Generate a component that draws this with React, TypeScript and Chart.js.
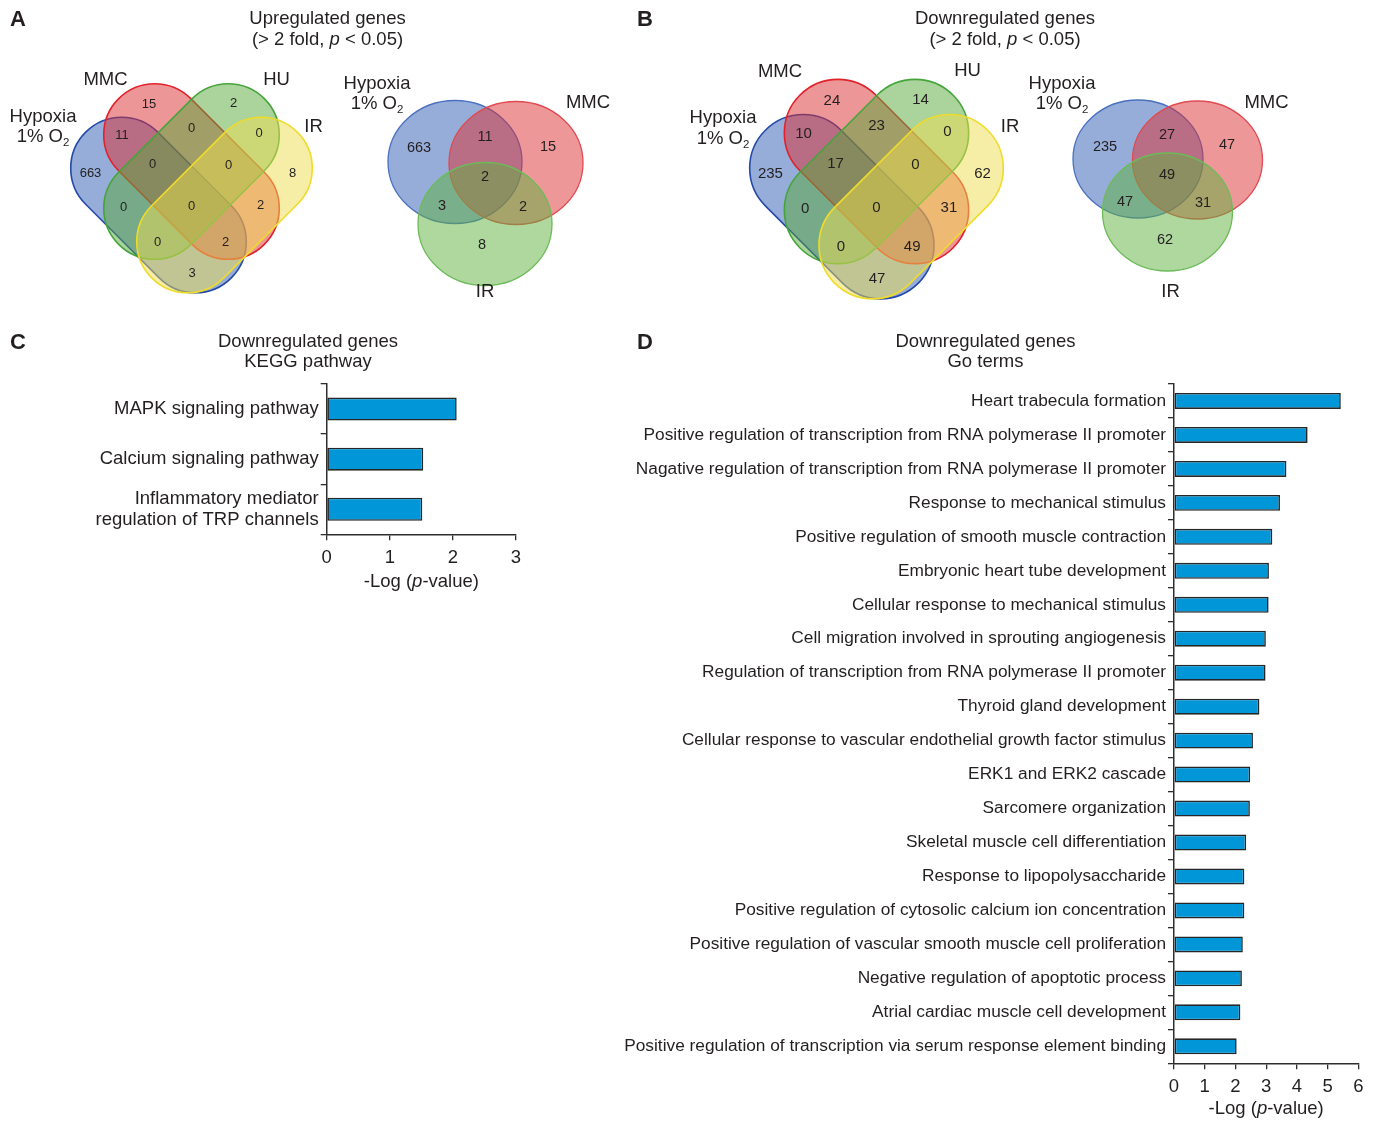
import React, { useEffect, useRef } from 'react';
import { Chart, registerables } from 'chart.js';

Chart.register(...registerables);

const FONT = '"Liberation Sans", Arial, Helvetica, sans-serif';
const INK = '#231f20';
const AXIS = '#2e2e2e';
const BAR_FILL = '#0096d8';
const BAR_EDGE = '#262626';

// ---------- Venn data ----------
const VENN4_REGIONS = ['M', 'U', 'HM', 'MU', 'UI', 'H', 'HMU', 'MUI', 'I', 'HU', 'HMUI', 'MI', 'HUI', 'HMI', 'HI'];
const UP_VENN4_COUNTS = [15, 2, 11, 0, 0, 663, 0, 0, 8, 0, 0, 2, 0, 2, 3];
const DOWN_VENN4_COUNTS = [24, 14, 10, 23, 0, 235, 17, 0, 62, 0, 0, 31, 0, 49, 47];
const VENN3_REGIONS = ['H', 'HM', 'M', 'HMI', 'HI', 'MI', 'I'];
const UP_VENN3_COUNTS = [663, 11, 15, 2, 3, 2, 8];
const DOWN_VENN3_COUNTS = [235, 27, 47, 49, 47, 31, 62];

// ---------- Bar data ----------
const KEGG_LABELS = [['MAPK signaling pathway'], ['Calcium signaling pathway'], ['Inflammatory mediator', 'regulation of TRP channels']];
const KEGG_VALUES = [2.06, 1.53, 1.515];
const KEGG_MAX = 3;

const GO_LABELS = [
  'Heart trabecula formation',
  'Positive regulation of transcription from RNA polymerase II promoter',
  'Nagative regulation of transcription from RNA polymerase II promoter',
  'Response to mechanical stimulus',
  'Positive regulation of smooth muscle contraction',
  'Embryonic heart tube development',
  'Cellular response to mechanical stimulus',
  'Cell migration involved in sprouting angiogenesis',
  'Regulation of transcription from RNA polymerase II promoter',
  'Thyroid gland development',
  'Cellular response to vascular endothelial growth factor stimulus',
  'ERK1 and ERK2 cascade',
  'Sarcomere organization',
  'Skeletal muscle cell differentiation',
  'Response to lipopolysaccharide',
  'Positive regulation of cytosolic calcium ion concentration',
  'Positive regulation of vascular smooth muscle cell proliferation',
  'Negative regulation of apoptotic process',
  'Atrial cardiac muscle cell development',
  'Positive regulation of transcription via serum response element binding',
];
const GO_VALUES = [5.43, 4.35, 3.66, 3.45, 3.2, 3.09, 3.08, 2.99, 2.98, 2.78, 2.57, 2.48, 2.47, 2.35, 2.29, 2.29, 2.24, 2.21, 2.16, 2.04];
const GO_MAX = 6;

// ---------- text helper ----------
type Run = { t: string; i?: boolean; sub?: boolean; b?: boolean };

function drawRuns(ctx: CanvasRenderingContext2D, runs: Run[], x: number, y: number, size: number, align: string = 'center') {
  ctx.save();
  ctx.textBaseline = 'middle';
  ctx.textAlign = 'left';
  ctx.fillStyle = INK;
  const fontOf = (r: Run) => `${r.i ? 'italic ' : ''}${r.b ? 'bold ' : ''}${r.sub ? size * 0.62 : size}px ${FONT}`;
  let total = 0;
  const widths = runs.map((r) => {
    ctx.font = fontOf(r);
    const w = ctx.measureText(r.t).width;
    total += w;
    return w;
  });
  let cx = align === 'center' ? x - total / 2 : align === 'right' ? x - total : x;
  runs.forEach((r, k) => {
    ctx.font = fontOf(r);
    ctx.fillText(r.t, cx, r.sub ? y + size * 0.32 : y);
    cx += widths[k];
  });
  ctx.restore();
}

const HYPOXIA_1: Run[] = [{ t: 'Hypoxia' }];
const HYPOXIA_2: Run[] = [{ t: '1% O' }, { t: '2', sub: true }];
const FOLD_LINE: Run[] = [{ t: '(> 2 fold, ' }, { t: 'p', i: true }, { t: ' < 0.05)' }];
const AXIS_TITLE: Run[] = [{ t: '-Log (' }, { t: 'p', i: true }, { t: '-value)' }];

// ---------- Venn layout ----------
const SET_STYLE: Record<string, { fill: string; stroke: string }> = {
  H: { fill: 'rgba(45,92,180,0.5)', stroke: '#2449a6' },
  M: { fill: 'rgba(220,45,48,0.5)', stroke: '#e1222b' },
  U: { fill: 'rgba(88,168,58,0.5)', stroke: '#45a53a' },
  I: { fill: 'rgba(238,222,80,0.5)', stroke: '#efdb2a' },
};
const SET3_STYLE: Record<string, { fill: string; stroke: string }> = {
  H: { fill: 'rgba(45,92,180,0.5)', stroke: '#4a70c0' },
  M: { fill: 'rgba(222,48,52,0.5)', stroke: '#e04a50' },
  I: { fill: 'rgba(95,178,62,0.5)', stroke: '#6cbb58' },
};

// pill geometry (relative to the MMC/HU centre), drawn in order
const PILLS = [
  { set: 'H', dx: -33, dy: 33.5, ang: Math.PI / 4 },
  { set: 'M', dx: 0, dy: 0, ang: Math.PI / 4 },
  { set: 'U', dx: 0, dy: 0, ang: -Math.PI / 4 },
  { set: 'I', dx: 33, dy: 33.5, ang: -Math.PI / 4 },
];
const PILL_A = 52;
const PILL_R = 51;
const V4_POS: Record<string, [number, number]> = {
  M: [-42.5, -67.3], U: [42, -68], HM: [-69.5, -35.6], MU: [0, -43], UI: [67.5, -38],
  H: [-101, 2], HMU: [-39, -7.3], MUI: [37, -6.3], I: [101, 2], HU: [-68, 35.6],
  HMUI: [0, 34.6], MI: [69, 34.2], HUI: [-34, 71.3], HMI: [34, 71.3], HI: [0.5, 102],
};
const VENN4_LAYOUT = [
  { cx: 191.5, cy: 171.5, s: 1, font: 13, counts: UP_VENN4_COUNTS,
    mmc: [105.5, 80], hu: [276.5, 80], hyp: [43, 116.5], ir: [313.5, 126.5] },
  { cx: 876.5, cy: 171.5, s: 1.05, font: 15, counts: DOWN_VENN4_COUNTS,
    mmc: [780, 71.5], hu: [967.5, 70.5], hyp: [723, 118], ir: [1010, 127] },
];
const VENN3_LAYOUT = [
  { circles: { H: [455, 162], M: [516, 163], I: [485, 224] }, rx: 67, ry: 61.5, font: 14.5, counts: UP_VENN3_COUNTS,
    pos: { H: [419, 148], HM: [485, 137], M: [548, 147], HMI: [485, 177], HI: [442, 206], MI: [523, 207], I: [482, 245] },
    hyp: [377, 83.5], mmc: [588, 103], ir: [485, 292] },
  { circles: { H: [1138, 159], M: [1197.5, 160], I: [1167.5, 212] }, rx: 65, ry: 59, font: 14.5, counts: DOWN_VENN3_COUNTS,
    pos: { H: [1105, 147], HM: [1167, 135], M: [1227, 145], HMI: [1167, 175], HI: [1125, 202], MI: [1203, 203], I: [1165, 240] },
    hyp: [1062, 83.5], mmc: [1266.5, 103], ir: [1170.5, 292] },
];

function pillPath(ctx: CanvasRenderingContext2D, cx: number, cy: number, a: number, r: number, ang: number) {
  ctx.save();
  ctx.translate(cx, cy);
  ctx.rotate(ang);
  ctx.beginPath();
  ctx.moveTo(-a, -r);
  ctx.lineTo(a, -r);
  ctx.arc(a, 0, r, -Math.PI / 2, Math.PI / 2);
  ctx.lineTo(-a, r);
  ctx.arc(-a, 0, r, Math.PI / 2, Math.PI * 1.5);
  ctx.closePath();
  ctx.restore();
}

const vennPlugin = {
  id: 'venn',
  afterDraw(chart: any) {
    const ctx: CanvasRenderingContext2D = chart.ctx;
    const X = (v: number) => chart.scales.x.getPixelForValue(v);
    const Y = (v: number) => chart.scales.y.getPixelForValue(v);
    const k = X(1) - X(0);

    // panel letters & titles
    drawRuns(ctx, [{ t: 'A', b: true }], X(10), Y(20), 22, 'left');
    drawRuns(ctx, [{ t: 'B', b: true }], X(637), Y(20), 22, 'left');
    drawRuns(ctx, [{ t: 'Upregulated genes' }], X(327.5), Y(18.5), 18.5);
    drawRuns(ctx, FOLD_LINE, X(327.5), Y(39.5), 18.5);
    drawRuns(ctx, [{ t: 'Downregulated genes' }], X(1005), Y(18.5), 18.5);
    drawRuns(ctx, FOLD_LINE, X(1005), Y(39.5), 18.5);

    // 4-set diagrams
    VENN4_LAYOUT.forEach((L) => {
      PILLS.forEach((p) => {
        const st = SET_STYLE[p.set];
        pillPath(ctx, X(L.cx + p.dx * L.s), Y(L.cy + p.dy * L.s), PILL_A * L.s * k, PILL_R * L.s * k, p.ang);
        ctx.fillStyle = st.fill;
        ctx.fill();
        ctx.strokeStyle = st.stroke;
        ctx.lineWidth = 1.6;
        ctx.stroke();
      });
      VENN4_REGIONS.forEach((reg, i) => {
        const [ox, oy] = V4_POS[reg];
        drawRuns(ctx, [{ t: String(L.counts[i]) }], X(L.cx + ox * L.s), Y(L.cy + oy * L.s), L.font);
      });
      drawRuns(ctx, [{ t: 'MMC' }], X(L.mmc[0]), Y(L.mmc[1]), 18.5);
      drawRuns(ctx, [{ t: 'HU' }], X(L.hu[0]), Y(L.hu[1]), 18.5);
      drawRuns(ctx, HYPOXIA_1, X(L.hyp[0]), Y(L.hyp[1]), 18.5);
      drawRuns(ctx, HYPOXIA_2, X(L.hyp[0]), Y(L.hyp[1] + 20.5), 18.5);
      drawRuns(ctx, [{ t: 'IR' }], X(L.ir[0]), Y(L.ir[1]), 18.5);
    });

    // 3-set diagrams
    VENN3_LAYOUT.forEach((L) => {
      (['H', 'M', 'I'] as const).forEach((s) => {
        const [cx, cy] = (L.circles as any)[s];
        ctx.beginPath();
        ctx.ellipse(X(cx), Y(cy), L.rx * k, L.ry * k, 0, 0, Math.PI * 2);
        ctx.fillStyle = SET3_STYLE[s].fill;
        ctx.fill();
        ctx.strokeStyle = SET3_STYLE[s].stroke;
        ctx.lineWidth = 1.3;
        ctx.stroke();
      });
      VENN3_REGIONS.forEach((reg, i) => {
        const [px, py] = (L.pos as any)[reg];
        drawRuns(ctx, [{ t: String(L.counts[i]) }], X(px), Y(py), L.font);
      });
      drawRuns(ctx, HYPOXIA_1, X(L.hyp[0]), Y(L.hyp[1]), 18.5);
      drawRuns(ctx, HYPOXIA_2, X(L.hyp[0]), Y(L.hyp[1] + 20), 18.5);
      drawRuns(ctx, [{ t: 'MMC' }], X(L.mmc[0]), Y(L.mmc[1]), 18.5);
      drawRuns(ctx, [{ t: 'IR' }], X(L.ir[0]), Y(L.ir[1]), 18.5);
    });
  },
};

const panelPlugin = {
  id: 'panelText',
  afterDraw(chart: any, _args: any, opts: any) {
    const ctx: CanvasRenderingContext2D = chart.ctx;
    const area = chart.chartArea;
    drawRuns(ctx, [{ t: opts.letter, b: true }], opts.letterX, opts.letterY, 22, 'left');
    (opts.title as string[]).forEach((line, k) => drawRuns(ctx, [{ t: line }], opts.titleX, opts.titleY + k * 20.5, 18.5));
    drawRuns(ctx, AXIS_TITLE, (area.left + area.right) / 2, area.bottom + opts.axisTitleDy, 18.5);
  },
};

function barConfig(labels: any[], values: number[], max: number, p: any): any {
  return {
    type: 'bar',
    data: {
      labels,
      datasets: [{
        data: values,
        backgroundColor: BAR_FILL,
        borderColor: BAR_EDGE,
        borderWidth: 1.6,
        borderSkipped: false,
        barPercentage: p.barPct,
        categoryPercentage: 1,
      }],
    },
    options: {
      indexAxis: 'y',
      responsive: false,
      animation: false,
      layout: { padding: { top: p.top, right: p.right, left: 0, bottom: 0 } },
      plugins: { legend: { display: false }, tooltip: { enabled: false }, panelText: p.text },
      scales: {
        x: {
          type: 'linear', min: 0, max,
          ticks: { stepSize: 1, font: { family: FONT, size: 18.5 }, color: INK, padding: 7 },
          grid: { drawOnChartArea: false, drawTicks: true, tickLength: 6, color: AXIS, lineWidth: 1.3 },
          border: { display: true, color: AXIS, width: 1.5 },
          afterFit: (s: any) => { s.height = p.xAxisH; },
        },
        y: {
          type: 'category',
          ticks: { font: { family: FONT, size: p.labelSize, lineHeight: 1.15 }, color: INK, padding: 2, autoSkip: false },
          grid: { drawOnChartArea: false, drawTicks: true, tickLength: 6, offset: true, color: AXIS, lineWidth: 1.3 },
          border: { display: true, color: AXIS, width: 1.5 },
          afterFit: (s: any) => { s.width = p.yAxisW; },
        },
      },
    },
    plugins: [panelPlugin],
  };
}

export default function App() {
  const vennRef = useRef<HTMLCanvasElement>(null);
  const keggRef = useRef<HTMLCanvasElement>(null);
  const goRef = useRef<HTMLCanvasElement>(null);

  useEffect(() => {
    const charts: Chart[] = [];
    charts.push(new Chart(vennRef.current!, {
      type: 'scatter',
      data: { datasets: [{ data: [] }] },
      options: {
        responsive: false,
        animation: false,
        layout: { padding: 0 },
        scales: {
          x: { type: 'linear', min: 0, max: 1381, display: false },
          y: { type: 'linear', min: 0, max: 320, reverse: true, display: false },
        },
        plugins: { legend: { display: false }, tooltip: { enabled: false } },
      },
      plugins: [vennPlugin],
    } as any));

    charts.push(new Chart(keggRef.current!, barConfig(KEGG_LABELS, KEGG_VALUES, KEGG_MAX, {
      barPct: 0.46, top: 64, right: 44, xAxisH: 85.7, yAxisW: 326.7, labelSize: 18.5,
      text: { letter: 'C', letterX: 10, letterY: 22.5, title: ['Downregulated genes', 'KEGG pathway'], titleX: 308, titleY: 21.5, axisTitleDy: 48 },
    })));

    charts.push(new Chart(goRef.current!, barConfig(GO_LABELS, GO_VALUES, GO_MAX, {
      barPct: 0.47, top: 64, right: 22.7, xAxisH: 57.7, yAxisW: 574, labelSize: 17.3,
      text: { letter: 'D', letterX: 37, letterY: 22.5, title: ['Downregulated genes', 'Go terms'], titleX: 385.5, titleY: 21.5, axisTitleDy: 46 },
    })));

    return () => charts.forEach((c) => c.destroy());
  }, []);

  return (
    <div style={{ position: 'absolute', left: 0, top: 0, width: 1381, height: 1121, background: '#fff', overflow: 'hidden' }}>
      <canvas ref={vennRef} width={1381} height={320} style={{ position: 'absolute', left: 0, top: 0 }} />
      <canvas ref={keggRef} width={560} height={300} style={{ position: 'absolute', left: 0, top: 320 }} />
      <canvas ref={goRef} width={781} height={801} style={{ position: 'absolute', left: 600, top: 320 }} />
    </div>
  );
}
